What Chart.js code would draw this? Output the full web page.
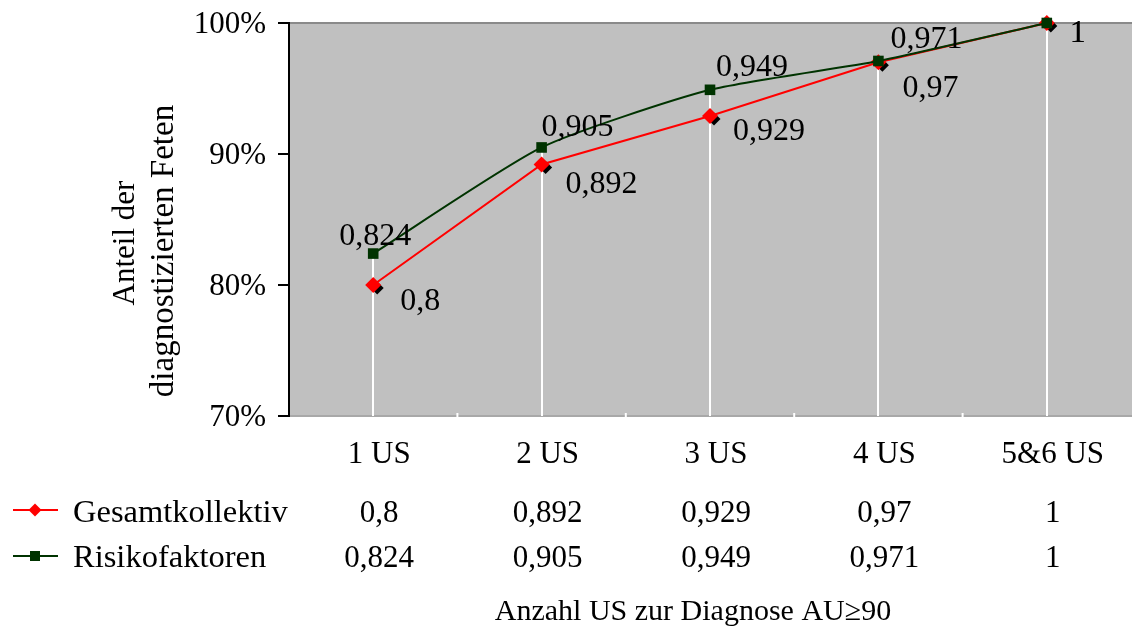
<!DOCTYPE html>
<html>
<head>
<meta charset="utf-8">
<script src="https://cdn.jsdelivr.net/npm/chart.js@4/dist/chart.umd.min.js"></script>
<style>
  html, body { margin: 0; padding: 0; background: #fff; }
  #wrap { width: 1132px; height: 626px; }
</style>
</head>
<body>
<div id="wrap"><canvas id="c" width="1132" height="626"></canvas></div>
<script>
// Categories and series values
const categories = ['1 US', '2 US', '3 US', '4 US', '5&6 US'];
const gesamtkollektiv = [0.8, 0.892, 0.929, 0.97, 1];
const risikofaktoren = [0.824, 0.905, 0.949, 0.971, 1];
const yTickValues = [0.7, 0.8, 0.9, 1.0];

const seriesNames = ['Gesamtkollektiv', 'Risikofaktoren'];
const xTitle = 'Anzahl US zur Diagnose AU\u226590';
const yTitleLines = ['Anteil der', 'diagnostizierten Feten'];

const FONT = '"Liberation Serif", "Times New Roman", serif';
const RED = '#FF0000';
const GREEN = '#003300';
const PLOT_BG = '#C0C0C0';

const fmt = v => String(v).replace('.', ',');

// Label placement relative to each point (pixels)
const labelOffsets = {
  red:   [[47, 17], [60, 20], [59, 16], [52, 26], [31, 11]],
  green: [[2, -17], [36, -20], [42, -22], [48, -21], [31, 11]]
};

function diamond(ctx, x, y, r) {
  ctx.beginPath();
  ctx.moveTo(x, y - r);
  ctx.lineTo(x + r, y);
  ctx.lineTo(x, y + r);
  ctx.lineTo(x - r, y);
  ctx.closePath();
}

const decorPlugin = {
  id: 'decor',
  beforeDraw(chart) {
    const { ctx, chartArea: a } = chart;
    ctx.save();
    ctx.fillStyle = PLOT_BG;
    ctx.fillRect(a.left, a.top, a.right - a.left + 1, a.bottom - a.top);
    // top frame line
    ctx.strokeStyle = '#8a8a8a';
    ctx.lineWidth = 2;
    ctx.beginPath();
    ctx.moveTo(a.left, a.top);
    ctx.lineTo(a.right + 1, a.top);
    ctx.stroke();
    ctx.restore();
  },
  beforeDatasetsDraw(chart) {
    const { ctx, chartArea: a } = chart;
    const x = chart.scales.x, y = chart.scales.y;
    ctx.save();
    // white drop lines from the highest point down to the axis
    ctx.strokeStyle = '#FFFFFF';
    ctx.lineWidth = 2;
    categories.forEach((c, i) => {
      const px = Math.round(x.getPixelForValue(i));
      const top = y.getPixelForValue(Math.max(gesamtkollektiv[i], risikofaktoren[i]));
      ctx.beginPath();
      ctx.moveTo(px, top);
      ctx.lineTo(px, a.bottom);
      ctx.stroke();
    });
    // white ticks at category boundaries across the bottom frame
    for (let i = 1; i < categories.length; i++) {
      const bx = (x.getPixelForValue(i - 1) + x.getPixelForValue(i)) / 2;
      ctx.beginPath();
      ctx.moveTo(bx, a.bottom - 3);
      ctx.lineTo(bx, a.bottom + 3);
      ctx.stroke();
    }
    // dark shadow behind the red markers
    ctx.fillStyle = '#000';
    gesamtkollektiv.forEach((v, i) => {
      diamond(ctx, x.getPixelForValue(i) + 4, y.getPixelForValue(v) + 3, 6.5);
      ctx.fill();
    });
    ctx.restore();
  },
  afterDraw(chart) {
    const { ctx } = chart;
    const x = chart.scales.x, y = chart.scales.y;
    ctx.save();
    ctx.fillStyle = '#000';

    // y tick labels
    ctx.font = '31px ' + FONT;
    ctx.textAlign = 'right';
    ctx.textBaseline = 'middle';
    yTickValues.forEach(v => {
      ctx.fillText(Math.round(v * 100) + '%', 266, y.getPixelForValue(v) + 2);
    });

    // value labels next to the points
    ctx.font = '32px ' + FONT;
    ctx.textAlign = 'center';
    gesamtkollektiv.forEach((v, i) => {
      const [dx, dy] = labelOffsets.red[i];
      ctx.fillText(fmt(v), x.getPixelForValue(i) + dx, y.getPixelForValue(v) + dy);
    });
    risikofaktoren.forEach((v, i) => {
      const [dx, dy] = labelOffsets.green[i];
      ctx.fillText(fmt(v), x.getPixelForValue(i) + dx, y.getPixelForValue(v) + dy);
    });

    // category labels and data table
    ctx.font = '31px ' + FONT;
    ctx.textBaseline = 'alphabetic';
    categories.forEach((c, i) => {
      const cx = x.getPixelForValue(i) + 6;
      ctx.fillText(c, cx, 463);
      ctx.fillText(fmt(gesamtkollektiv[i]), cx, 522);
      ctx.fillText(fmt(risikofaktoren[i]), cx, 567);
    });

    // legend keys of the data table
    const rows = [
      { name: seriesNames[0], color: RED, y: 510, marker: 'diamond' },
      { name: seriesNames[1], color: GREEN, y: 556, marker: 'square' }
    ];
    rows.forEach(r => {
      ctx.strokeStyle = r.color;
      ctx.fillStyle = r.color;
      ctx.lineWidth = 2;
      ctx.beginPath();
      ctx.moveTo(13, r.y);
      ctx.lineTo(58, r.y);
      ctx.stroke();
      if (r.marker === 'diamond') { diamond(ctx, 35, r.y, 6.5); ctx.fill(); }
      else { ctx.fillRect(30, r.y - 5, 10, 10); }
    });
    ctx.fillStyle = '#000';
    ctx.textAlign = 'left';
    ctx.font = '32.5px ' + FONT;
    ctx.fillText(rows[0].name, 73, 522);
    ctx.fillText(rows[1].name, 73, 567);

    // x axis title
    ctx.textAlign = 'center';
    ctx.font = '30px ' + FONT;
    ctx.fillText(xTitle, 693, 620);

    // y axis title (two rotated lines)
    ctx.textBaseline = 'middle';
    ctx.save();
    ctx.font = '31px ' + FONT;
    ctx.translate(126, 243);
    ctx.rotate(-Math.PI / 2);
    ctx.fillText(yTitleLines[0], 0, 0);
    ctx.restore();
    ctx.save();
    ctx.font = '33px ' + FONT;
    ctx.translate(164, 251);
    ctx.rotate(-Math.PI / 2);
    ctx.fillText(yTitleLines[1], 0, 0);
    ctx.restore();

    ctx.restore();
  }
};

new Chart(document.getElementById('c'), {
  type: 'line',
  data: {
    labels: categories,
    datasets: [
      {
        label: seriesNames[1],
        data: risikofaktoren,
        borderColor: GREEN,
        backgroundColor: GREEN,
        borderWidth: 2,
        tension: 0.2,
        pointStyle: 'rect',
        pointRadius: 7.5,
        pointHoverRadius: 7.5,
        pointBorderWidth: 0,
        clip: false,
        order: 0
      },
      {
        label: seriesNames[0],
        data: gesamtkollektiv,
        borderColor: RED,
        backgroundColor: RED,
        borderWidth: 2,
        tension: 0,
        pointStyle: 'rectRot',
        pointRadius: 8,
        pointHoverRadius: 8,
        pointBorderWidth: 0,
        clip: false,
        order: 1
      }
    ]
  },
  options: {
    responsive: false,
    animation: false,
    events: [],
    layout: { autoPadding: false, padding: { top: 23, right: 1, bottom: 0, left: 0 } },
    plugins: {
      legend: { display: false },
      tooltip: { enabled: false },
      title: { display: false }
    },
    scales: {
      x: {
        type: 'category',
        offset: true,
        afterFit(s) { s.height = 210; s.paddingLeft = 0; s.paddingRight = 0; },
        ticks: { display: false },
        grid: { display: false, drawOnChartArea: false, drawTicks: false },
        border: { display: true, color: '#A8A8A8', width: 2 }
      },
      y: {
        min: 0.7,
        max: 1.0,
        afterFit(s) { s.width = 289; s.paddingTop = 0; s.paddingBottom = 0; },
        afterBuildTicks(s) { s.ticks = yTickValues.map(v => ({ value: v })); },
        ticks: { display: false },
        grid: { drawOnChartArea: false, drawTicks: true, tickLength: 11, color: '#000', lineWidth: 2 },
        border: { display: true, color: '#000', width: 2 }
      }
    }
  },
  plugins: [decorPlugin]
});
</script>
</body>
</html>
